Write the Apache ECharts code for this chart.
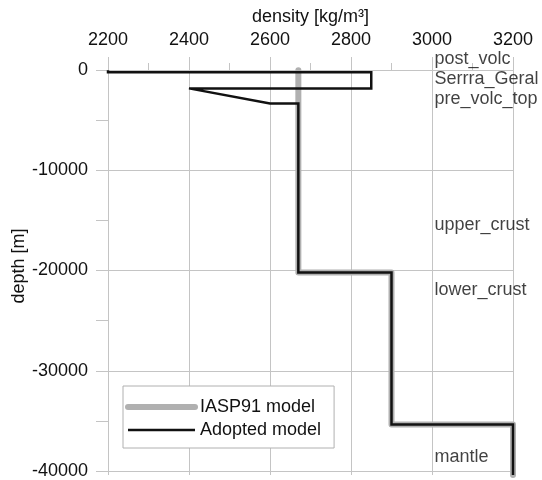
<!DOCTYPE html>
<html><head><meta charset="utf-8">
<script src="https://cdn.jsdelivr.net/npm/echarts@6/dist/echarts.min.js"></script>
<style>html,body{margin:0;padding:0;background:#fff}#c{width:542px;height:480px}</style>
</head><body><div id="c"></div>
<script>
// ---- data ----
const densityMin = 2200, densityMax = 3200, densityStep = 200, densityMinorStep = 100;
const depthMin = -40000, depthMax = 0, depthStep = 10000;
const depthTop = 1300; // plot area extends slightly above 0
const iaspDensity = [2670, 2670, 2900, 2900, 3200, 3200];
const iaspDepth   = [0, -20000, -20000, -35000, -35000, -40000];
const adoptedDensity = [2200, 2200, 2850, 2850, 2400, 2600, 2670, 2670, 2900, 2900, 3200, 3200];
const adoptedDepth   = [0, -200, -200, -1800, -1800, -3300, -3300, -20000, -20000, -35000, -35000, -40000];
const layerNames = ['post_volc', 'Serrra_Geral', 'pre_volc_top', 'upper_crust', 'lower_crust', 'mantle'];
const layerLabelDepth = [1100, -900, -2900, -15300, -21700, -38200];
const layerLabelDensity = 3000;
const seriesNames = ['IASP91 model', 'Adopted model'];

const FONT = 'Arial, "Liberation Sans", sans-serif';
const TXT = '#111';
const GRID = '#c4c4c4';
const GRAYLINE = '#b0b0b0';

const chart = echarts.init(document.getElementById('c'), null, {renderer: 'canvas'});
chart.setOption({
  animation: false,
  backgroundColor: '#fff',
  textStyle: {fontFamily: FONT},
  grid: [
    {left: 108, right: 29, top: 57, bottom: 5},
    {left: 108, right: 29, top: 70, bottom: 5}
  ],
  xAxis: [
    {gridIndex: 0, type: 'value', position: 'top', min: densityMin, max: densityMax, interval: densityStep,
     name: 'density [kg/m³]', nameLocation: 'middle', nameGap: 30,
     nameTextStyle: {fontSize: 18, color: TXT, fontFamily: FONT},
     axisLine: {show: false}, axisTick: {show: false},
     axisLabel: {fontSize: 18, color: TXT, margin: 8, fontFamily: FONT, formatter: v => String(v)},
     splitLine: {show: true, lineStyle: {color: GRID, width: 1}}},
    {gridIndex: 1, type: 'value', position: 'top', min: densityMin, max: densityMax, interval: densityMinorStep,
     axisLine: {show: false}, axisLabel: {show: false},
     axisTick: {show: true, length: 7, lineStyle: {color: GRID}},
     splitLine: {show: false}}
  ],
  yAxis: [
    {gridIndex: 0, type: 'value', min: depthMin, max: depthTop,
     name: 'depth [m]', nameLocation: 'middle', nameGap: 80,
     nameTextStyle: {fontSize: 18, color: TXT, fontFamily: FONT},
     axisLine: {show: false}, axisTick: {show: false}, axisLabel: {show: false},
     splitLine: {show: false}},
    {gridIndex: 1, type: 'value', min: depthMin, max: depthMax, interval: depthStep,
     axisLine: {show: false},
     axisTick: {show: true, length: 12, lineStyle: {color: GRID}},
     minorTick: {show: true, splitNumber: 2, length: 12, lineStyle: {color: GRID}},
     axisLabel: {fontSize: 18, color: TXT, margin: 20, fontFamily: FONT, formatter: v => String(v)},
     splitLine: {show: true, lineStyle: {color: GRID, width: 1}}}
  ],
  legend: {
    show: true,
    orient: 'vertical', left: 123, top: 386,
    backgroundColor: '#fff', borderColor: '#b0b0b0', borderWidth: 1,
    padding: [12, 13, 9, 2],
    itemWidth: 67, itemHeight: 18, itemGap: 5,
    textStyle: {fontSize: 18, color: TXT, fontFamily: FONT},
    data: [
      {name: seriesNames[0], itemStyle: {opacity: 0}, lineStyle: {width: 6, color: GRAYLINE, cap: 'round'}},
      {name: seriesNames[1], itemStyle: {opacity: 0}, lineStyle: {width: 2.5, color: '#111'}}
    ]
  },
  series: [
    {name: seriesNames[0], type: 'line', xAxisIndex: 0, yAxisIndex: 0, symbol: 'none',
     data: iaspDensity.map((d, i) => [d, iaspDepth[i]]),
     lineStyle: {color: GRAYLINE, width: 6, cap: 'round', join: 'round'},
     itemStyle: {color: GRAYLINE}},
    {name: seriesNames[1], type: 'line', xAxisIndex: 0, yAxisIndex: 0, symbol: 'none',
     data: adoptedDensity.map((d, i) => [d, adoptedDepth[i]]),
     lineStyle: {color: '#111', width: 2.5, join: 'miter'},
     itemStyle: {color: '#111'}},
    {name: 'layers', type: 'scatter', xAxisIndex: 0, yAxisIndex: 0, symbolSize: 1,
     itemStyle: {color: 'rgba(0,0,0,0)'}, silent: true, clip: false,
     data: layerNames.map((n, i) => ({name: n, value: [layerLabelDensity, layerLabelDepth[i]]})),
     label: {show: true, position: 'right', distance: 2, formatter: p => p.name,
             fontSize: 18, color: TXT, fontFamily: FONT, align: 'left', verticalAlign: 'middle'}}
  ]
});
</script></body></html>
